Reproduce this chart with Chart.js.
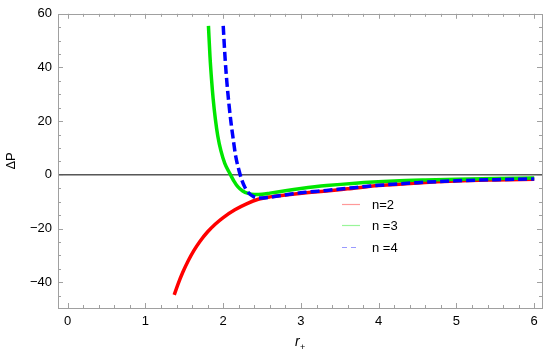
<!DOCTYPE html>
<html>
<head>
<meta charset="utf-8">
<script src="https://cdn.jsdelivr.net/npm/chart.js@4.4.1/dist/chart.umd.min.js"></script>
<style>
  html, body { margin: 0; padding: 0; background: #fff; }
  #wrap { width: 550px; height: 357px; }
</style>
</head>
<body>
<div id="wrap"><canvas id="myChart" width="550" height="357"></canvas></div>
<script>
// values
const xTicks = [0, 1, 2, 3, 4, 5, 6];
const yTicks = [-40, -20, 0, 20, 40, 60];
const seriesLabels = ["n=2", "n =3", "n =4"];

const n2X = [1.37, 1.42, 1.48, 1.55, 1.62, 1.70, 1.80, 1.90, 2.00, 2.15, 2.30, 2.45, 2.6, 2.8, 3.1, 3.33, 3.6, 4.0, 4.5, 5.0, 5.5, 6.0];
const n2Y = [-44.7, -40.6, -36.3, -32.0, -28.3, -24.8, -21.2, -18.3, -15.9, -13.0, -10.8, -9.1, -8.2, -7.5, -6.6, -6.0, -5.2, -4.0, -3.0, -2.3, -1.9, -1.6];

const n3X = [1.81, 1.83, 1.85, 1.87, 1.90, 1.93, 1.97, 2.02, 2.08, 2.14, 2.19, 2.25, 2.32, 2.40, 2.5, 2.6, 2.8, 3.0, 3.33, 3.7, 4.2, 4.6, 5.0, 5.5, 6.0];
const n3Y = [55.5, 44, 35.5, 28.5, 20.5, 14.5, 9, 4.3, 0.8, -2.4, -4.5, -6.0, -6.9, -7.3, -7.2, -6.8, -5.9, -5.1, -4.0, -3.1, -2.3, -1.9, -1.6, -1.4, -1.2];

const n4X = [2.0, 2.025, 2.05, 2.075, 2.10, 2.13, 2.16, 2.20, 2.24, 2.28, 2.33, 2.39, 2.46, 2.55, 2.7, 2.9, 3.1, 3.33, 3.6, 4.0, 4.5, 5.0, 5.5, 6.0];
const n4Y = [55.5, 43, 33.5, 26, 19.5, 13, 7.0, 2.0, -2.0, -4.7, -6.8, -8.1, -8.6, -8.5, -7.9, -7.0, -6.4, -5.8, -5.0, -3.9, -2.9, -2.2, -1.8, -1.5];

const xMin = -0.125, xMax = 6.1;
const yMin = -49.6, yMax = 60;

function pts(xs, ys) {
  return xs.map((x, i) => ({ x: x, y: ys[i] }));
}

const fontFam = "'Liberation Sans', Arial, sans-serif";
const frameColor = "#a0a0a0";

// frame with inward ticks on all four sides, x title and the legend
const framePlugin = {
  id: "frame",
  afterDraw(chart) {
    const ctx = chart.ctx;
    const a = chart.chartArea;
    const xs = chart.scales.x, ys = chart.scales.y;
    ctx.save();
    ctx.strokeStyle = frameColor;
    ctx.lineWidth = 1;
    ctx.strokeRect(Math.round(a.left) + 0.5, Math.round(a.top) + 0.5,
      Math.round(a.right - a.left), Math.round(a.bottom - a.top));
    ctx.beginPath();
    for (let v = 0; v <= 6.0001; v += 0.2) {
      const major = Math.abs(v - Math.round(v)) < 1e-6;
      const len = major ? 5 : 3;
      const px = Math.round(xs.getPixelForValue(v)) + 0.5;
      ctx.moveTo(px, a.bottom); ctx.lineTo(px, a.bottom - len);
      ctx.moveTo(px, a.top); ctx.lineTo(px, a.top + len);
    }
    for (let v = -45; v <= 60; v += 5) {
      const major = v % 20 === 0;
      const len = major ? 5 : 3;
      const py = Math.round(ys.getPixelForValue(v)) + 0.5;
      ctx.moveTo(a.left, py); ctx.lineTo(a.left + len, py);
      ctx.moveTo(a.right, py); ctx.lineTo(a.right - len, py);
    }
    ctx.stroke();

    // x axis title: italic r with subscript +
    const cx = (a.left + a.right) / 2;
    ctx.fillStyle = "#000";
    ctx.textBaseline = "alphabetic";
    ctx.textAlign = "left";
    ctx.font = "italic 14px " + fontFam;
    ctx.fillText("r", cx - 5, 346);
    ctx.font = "9px " + fontFam;
    ctx.fillText("+", cx, 350);

    // legend
    const rows = [204.5, 225.5, 247.5];
    const cols = ["rgba(255,0,0,0.4)", "rgba(0,230,0,0.4)", "rgba(0,0,255,0.4)"];
    ctx.font = "13px " + fontFam;
    ctx.textBaseline = "middle";
    for (let i = 0; i < 3; i++) {
      ctx.beginPath();
      ctx.strokeStyle = cols[i];
      ctx.lineWidth = 1.2;
      ctx.setLineDash(i === 2 ? [5, 4] : []);
      ctx.moveTo(342, rows[i]); ctx.lineTo(360, rows[i]);
      ctx.stroke();
      ctx.setLineDash([]);
      ctx.fillText(seriesLabels[i], 372, rows[i] + 1);
    }
    ctx.restore();
  }
};

const ctx = document.getElementById("myChart").getContext("2d");
new Chart(ctx, {
  type: "scatter",
  data: {
    datasets: [
      {
        label: seriesLabels[0], data: pts(n2X, n2Y), showLine: true,
        borderColor: "#ff0000", borderWidth: 3.5, pointRadius: 0,
        cubicInterpolationMode: "monotone", order: 3
      },
      {
        label: seriesLabels[1], data: pts(n3X, n3Y), showLine: true,
        borderColor: "#00e600", borderWidth: 3.5, pointRadius: 0,
        cubicInterpolationMode: "monotone", order: 2
      },
      {
        label: seriesLabels[2], data: pts(n4X, n4Y), showLine: true,
        borderColor: "#0000ff", borderWidth: 3.5, borderDash: [9, 4], pointRadius: 0,
        cubicInterpolationMode: "monotone", order: 1
      },
      {
        label: "zero", data: [{ x: xMin, y: 0 }, { x: xMax, y: 0 }], showLine: true,
        borderColor: "#000", borderWidth: 1, pointRadius: 0, order: 4
      }
    ]
  },
  options: {
    responsive: false,
    animation: false,
    layout: { padding: { top: 10, right: 8, left: 0, bottom: 0 } },
    plugins: { legend: { display: false }, tooltip: { enabled: false } },
    scales: {
      x: {
        type: "linear", min: xMin, max: xMax,
        grid: { display: false, drawTicks: false },
        border: { display: false },
        afterBuildTicks: s => { s.ticks = xTicks.map(v => ({ value: v })); },
        afterFit: s => { s.height = 49; },
        ticks: {
          color: "#000", padding: 6, maxRotation: 0,
          font: { family: fontFam, size: 13 },
          callback: v => String(v)
        },
        title: { display: false }
      },
      y: {
        type: "linear", min: yMin, max: yMax,
        grid: { display: false, drawTicks: false },
        border: { display: false },
        afterBuildTicks: s => { s.ticks = yTicks.map(v => ({ value: v })); },
        afterFit: s => { s.width = 58; },
        ticks: {
          color: "#000", padding: 6,
          font: { family: fontFam, size: 13 },
          callback: v => (v < 0 ? "\u2212" + Math.abs(v) : String(v))
        },
        title: {
          display: true, text: "\u0394P", color: "#000",
          font: { family: fontFam, size: 13 },
          padding: { top: 4, bottom: 0 }
        }
      }
    }
  },
  plugins: [framePlugin]
});
</script>
</body>
</html>
